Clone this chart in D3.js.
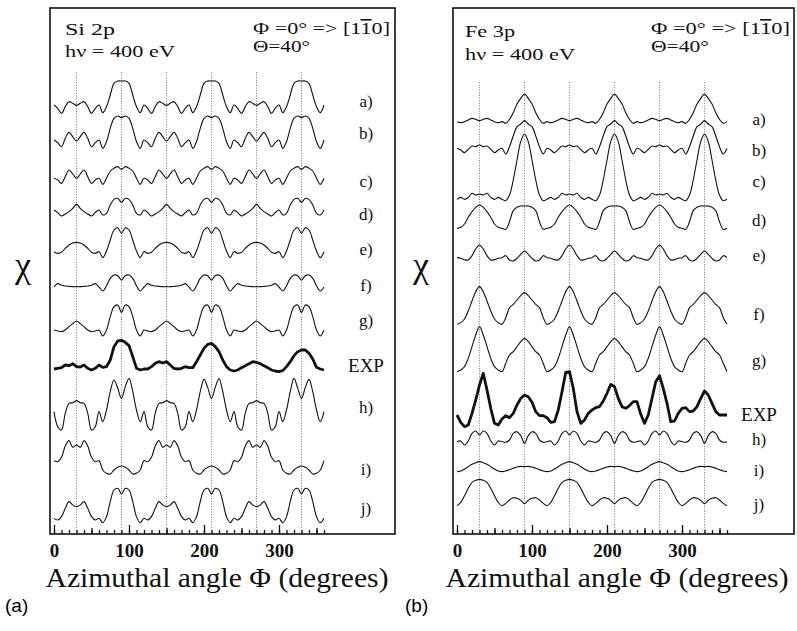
<!DOCTYPE html>
<html>
<head>
<meta charset="utf-8">
<script src="https://cdn.jsdelivr.net/npm/d3@7"></script>
<style>
  body { margin: 0; background: #fff; }
</style>
</head>
<body>
<div id="chart"></div>
<script>
// azimuthal sampling grid (degrees)
const angles = d3.range(0, 361, 5);

const curveLabels = ["a)", "b)", "c)", "d)", "e)", "f)", "g)", "EXP", "h)", "i)", "j)"];
const tickLabels = [0, 100, 200, 300];
const dottedAngles = [30, 90, 150, 210, 270, 330];

// Si 2p, chi (arb. units), one value every 5 deg from 0 to 360
const siA = [25,15,0,20,35,30, 24,30,35,20,0,15,25,2,20,55,90,97,97, 97,90,55,20,2,25,15,0,20,35,30,24,
  30,35,20,0,15,25,2,20,55,90,97,97, 97,90,55,20,2,25,15,0,20,35,30,24, 30,35,20,0,15,25,2,20,55,90,97,97, 97,90,55,20,2,25];
const siB = [28,20,8,33,51,38, 25,38,51,33,8,20,28,3,23,63,93,100,95, 100,93,63,23,3,28,20,8,33,51,38,25,
  38,51,33,8,20,28,3,23,63,93,100,95, 100,93,63,23,3,28,20,8,33,51,38,25, 38,51,33,8,20,28,3,23,63,93,100,95, 100,93,63,23,3,28];
const siC = [20,15,5,25,45,33, 20,33,45,25,5,15,20,2,20,42,50,55,47, 55,50,42,20,2,20,15,5,25,45,33,20,
  33,45,25,5,15,20,2,20,42,50,55,47, 55,50,42,20,2,20,15,5,25,45,33,20, 33,45,25,5,15,20,2,20,42,50,55,47, 55,50,42,20,2,20];
const siD = [20,12,2,8,15,25, 37,25,15,8,2,12,20,5,10,35,52,55,43, 55,52,35,10,5,20,12,2,8,15,25,37,
  25,15,8,2,12,20,5,10,35,52,55,43, 55,52,35,10,5,20,12,2,8,15,25,37, 25,15,8,2,12,20,5,10,35,52,55,43, 55,52,35,10,5,20];
const siE = [18,13,16,28,38,44, 46,44,38,28,16,13,18,0,20,53,83,90,73, 90,83,53,20,0,18,13,16,28,38,44,46,
  44,38,28,16,13,18,0,20,53,83,90,73, 90,83,53,20,0,18,13,16,28,38,44,46, 44,38,28,16,13,18,0,20,53,83,90,73, 90,83,53,20,0,18];
const siF = [12,22,17,15,14,13, 13,13,14,15,17,22,12,0,16,38,48,46,33, 46,48,38,16,0,12,22,17,15,14,13,13,
  13,14,15,17,22,12,0,16,38,48,46,33, 46,48,38,16,0,12,22,17,15,14,13,13, 13,14,15,17,22,12,0,16,38,48,46,33, 46,48,38,16,0,12];
const siG = [21,18,16,21,31,40, 48,40,31,21,16,18,21,3,21,61,91,96,74, 96,91,61,21,3,21,18,16,21,31,40,48,
  40,31,21,16,18,21,3,21,61,91,96,74, 96,91,61,21,3,21,18,16,21,31,40,48, 40,31,21,16,18,21,3,21,61,91,96,74, 96,91,61,21,3,21];
const siExp = [8,10,12,20,18,24,15,14,20,10, 5,10,20,13,15,35,75,92,94,88, 78,45,10,5,8,8,15,25,30,26,
  30,20,10,8,10,15,12,12,30,50, 70,82,85,75,60,35,15,5,2,5, 12,18,24,30,28,24,18,12,5,2, 0,3,15,30,48,60,65,65,55,38, 13,8,5];
const siH = [63,18,8,58,88,90, 96,90,88,58,8,18,63,33,68,123,158,133,103, 138,163,123,68,33,63,18,8,58,88,90,96,
  90,88,58,8,18,63,33,68,123,160,135,103, 136,162,123,68,33,63,18,8,58,88,90,96, 90,88,58,8,18,63,33,68,123,163,133,103, 135,160,123,68,33,63];
const siI = [42,39,52,86,102,82, 89,82,102,86,52,39,42,14,4,2,14,22,26, 22,14,2,4,14,42,39,52,86,102,82,89,
  82,102,86,52,39,42,14,4,2,14,22,26, 22,14,2,4,14,42,39,52,86,102,82,89, 82,102,86,52,39,42,14,4,2,14,22,26, 22,14,2,4,14,42];
const siJ = [15,10,20,45,65,55, 50,55,65,45,20,10,15,2,20,65,100,105,88, 105,100,65,20,2,15,10,20,45,65,55,50,
  55,65,45,20,10,15,2,20,65,100,105,88, 105,100,65,20,2,15,10,20,45,65,55,50, 55,65,45,20,10,15,2,20,65,100,105,88, 105,100,65,20,2,15];

// Fe 3p
const feA = [6,3,6,11,16,13, 9,13,16,11,6,3,6,1,13,33,59,76,89, 76,59,33,13,1,6,3,6,11,16,13,9,
  13,16,11,6,3,6,1,13,33,59,76,89, 76,59,33,13,1,6,3,6,11,16,13,9, 13,16,11,6,3,6,1,13,33,59,76,89, 76,59,33,13,1,6];
const feB = [20,15,7,17,27,25, 30,25,27,17,7,15,20,3,25,57,85,93,103, 93,85,57,25,3,20,15,7,17,27,25,30,
  25,27,17,7,15,20,3,25,57,85,93,103, 93,85,57,25,3,20,15,7,17,27,25,30, 25,27,17,7,15,20,3,25,57,85,93,103, 93,85,57,25,3,20];
const feC = [7,13,7,13,25,20, 23,20,25,13,7,13,7,3,20,65,125,180,203, 180,125,65,20,3,7,13,7,13,25,20,23,
  20,25,13,7,13,7,3,20,65,125,180,203, 180,125,65,20,3,7,13,7,13,25,20,23, 20,25,13,7,13,7,3,20,65,125,180,203, 180,125,65,20,3,7];
const feD = [5,8,18,38,55,68, 75,68,55,38,18,8,5,2,25,58,68,72,72, 72,68,58,25,2,5,8,18,38,55,68,75,
  68,55,38,18,8,5,2,25,58,68,72,72, 72,68,58,25,2,5,8,18,38,55,68,75, 68,55,38,18,8,5,2,25,58,68,72,72, 72,68,58,25,2,5];
const feE = [12,10,6,5,18,38, 50,38,18,5,6,10,12,18,5,2,10,22,32, 22,10,2,5,18,12,10,6,5,18,38,50,
  38,18,5,6,10,12,18,5,2,10,22,32, 22,10,2,5,18,12,10,6,5,18,38,50, 38,18,5,6,10,12,18,5,2,10,22,32, 22,10,2,5,18,12];
const feF = [2,7,18,42,72,100, 115,100,72,42,18,7,2,22,52,62,75,88,97, 88,75,62,52,22,2,7,18,42,72,100,115,
  100,72,42,18,7,2,22,52,62,75,88,97, 88,75,62,52,22,2,7,18,42,72,100,115, 100,72,42,18,7,2,22,52,62,75,88,97, 88,75,62,52,22,2];
const feG = [5,10,20,45,80,115, 140,115,80,45,20,10,5,30,55,65,80,95,105, 95,80,65,55,30,5,10,20,45,80,115,140,
  115,80,45,20,10,5,30,55,65,80,95,105, 95,80,65,55,30,5,10,20,45,80,115,140, 115,80,45,20,10,5,30,55,65,80,95,105, 95,80,65,55,30,5];
const feExp = [38,16,3,8,43,83,128,163,113,58, 13,8,26,36,30,43,68,88,98,93, 76,48,36,36,30,16,18,53,108,166,
  168,118,48,13,23,43,53,60,63,80, 103,130,123,88,63,58,66,78,78,40, 13,38,88,138,156,118,73,18,20,43, 58,60,48,50,63,88,110,98,73,48, 38,38,38];
const feH = [15,17,5,17,40,47, 35,47,40,17,5,17,15,13,20,40,45,33,10, 33,45,40,20,13,15,17,5,17,40,47,35,
  47,40,17,5,17,15,13,20,40,45,33,10, 33,45,40,20,13,15,17,5,17,40,47,35, 47,40,17,5,17,15,13,20,40,45,33,10, 33,45,40,20,13,15];
const feI = [2,4,10,17,24,29, 32,29,24,17,10,4,2,4,8,12,16,18,17, 18,16,12,8,4,2,4,10,17,24,29,32,
  29,24,17,10,4,2,4,8,12,16,18,17, 18,16,12,8,4,2,4,10,17,24,29,32, 29,24,17,10,4,2,4,8,12,16,18,17, 18,16,12,8,4,2];
const feJ = [2,12,32,54,72,78, 81,78,72,54,32,12,2,9,19,26,24,18,8, 18,24,26,19,9,2,12,32,54,72,78,81,
  78,72,54,32,12,2,9,19,26,24,18,8, 18,24,26,19,9,2,12,32,54,72,78,81, 78,72,54,32,12,2,9,19,26,24,18,8, 18,24,26,19,9,2];

const W = 797, H = 631;
const frameTop = 8, frameBottom = 534;
const SERIF = "'Liberation Serif', 'Nimbus Roman', 'Times New Roman', Times, serif";
const SANS = "'Liberation Sans', Arial, sans-serif";

// layout of the two panels (vertical offsets are in chi units)
const panels = [
  { tag: "(a)", tagX: 5, left: 50, right: 395, x0: 54, chiX: 23, labelX: 366, dotTop: 72, titleX: 217,
    series: [siA, siB, siC, siD, siE, siF, siG, siExp, siH, siI, siJ],
    offsets: [1265, 1157, 1050, 955, 832, 732, 594, 490, 307, 181, 35],
    labelY: [107, 139, 187, 220, 255, 291, 326, 372, 413, 475, 514],
    head: { x: 65, y1: 35, y2: 57, line: "Si 2p", w1: 50, hx: 253, hw: 137, tw: 57 } },
  { tag: "(b)", tagX: 405, left: 453, right: 794, x0: 457, chiX: 421, labelX: 759, dotTop: 82, titleX: 617,
    series: [feA, feB, feC, feD, feE, feF, feG, feExp, feH, feI, feJ],
    offsets: [1234, 1140, 1000, 915, 820, 630, 485, 322, 265, 188, 86],
    labelY: [125, 156, 187, 226, 261, 320, 366, 421, 445, 476, 510],
    head: { x: 465, y1: 37, y2: 60, line: "Fe 3p", w1: 50, hx: 651, hw: 139, tw: 58 } }
];

const svg = d3.select("#chart").append("svg")
  .attr("width", W)
  .attr("height", H);

// text helper, optionally stretched to a given width
function label(g, x, y, str, size, width, anchor) {
  const t = g.append("text")
    .attr("x", x).attr("y", y)
    .attr("text-anchor", anchor || "start")
    .style("font-family", SERIF)
    .style("font-size", size + "px")
    .style("fill", "#111")
    .text(str);
  if (width) t.attr("textLength", width).attr("lengthAdjust", "spacingAndGlyphs");
  return t;
}

const y = d3.scaleLinear().domain([0, 1581]).range([frameBottom + 1, frameTop]);

panels.forEach(p => {
  const g = svg.append("g");
  const x = d3.scaleLinear().domain([0, 360]).range([p.x0, p.x0 + 270]);

  // dotted guides
  g.selectAll(".guide")
    .data(dottedAngles)
    .enter()
    .append("line")
    .attr("x1", d => x(d)).attr("x2", d => x(d))
    .attr("y1", p.dotTop).attr("y2", frameBottom)
    .attr("stroke", "#555")
    .attr("stroke-width", 0.8)
    .attr("stroke-dasharray", "1,1.6");

  // curves
  p.series.forEach((vals, i) => {
    const isExp = curveLabels[i] === "EXP";
    const line = d3.line()
      .x((d, k) => x(angles[k]))
      .y(d => y(p.offsets[i] + d))
      .curve(isExp ? d3.curveLinear : d3.curveCatmullRom.alpha(0.5));
    g.append("path")
      .datum(vals)
      .attr("d", line)
      .attr("fill", "none")
      .attr("stroke", "#111")
      .attr("stroke-width", isExp ? 2.8 : 1.1)
      .attr("stroke-linejoin", "round");

    label(g, p.labelX, p.labelY[i], curveLabels[i], isExp ? 19 : 17, null, "middle");
  });

  // frame
  g.append("rect")
    .attr("x", p.left).attr("y", frameTop)
    .attr("width", p.right - p.left)
    .attr("height", frameBottom - frameTop)
    .attr("fill", "none")
    .attr("stroke", "#111")
    .attr("stroke-width", 1.6);

  // ticks pointing inward
  const axG = g.append("g").attr("transform", `translate(0,${frameBottom})`);
  axG.append("g")
    .call(d3.axisBottom(x).tickValues(d3.range(0, 361, 10)).tickSize(-4).tickFormat(""));
  axG.append("g")
    .call(d3.axisBottom(x).tickValues([50, 150, 250, 350]).tickSize(-6).tickFormat(""));
  axG.append("g")
    .call(d3.axisBottom(x).tickValues(tickLabels).tickSize(-9).tickPadding(10));
  axG.selectAll(".domain").remove();
  axG.selectAll(".tick line").attr("stroke", "#111").attr("stroke-width", 1.3);
  axG.selectAll(".tick text")
    .style("font-family", SERIF)
    .style("font-size", "19px")
    .style("font-weight", "bold")
    .style("fill", "#111");

  // axis title
  label(g, p.titleX, 587, "Azimuthal angle \u03A6 (degrees)", 28, 343, "middle");

  // chi
  label(g, p.chiX, 277, "\u03C7", 36, null, "middle");

  // header
  label(g, p.head.x, p.head.y1, p.head.line, 17, p.head.w1);
  label(g, p.head.x, p.head.y2, "h\u03BD = 400 eV", 17, 110);
  const phi = label(g, p.head.hx, 34, "\u03A6 =0\u00B0 => [1", 16, p.head.hw);
  phi.append("tspan").style("text-decoration", "overline").text("1");
  phi.append("tspan").text("0]");
  label(g, p.head.hx, 52, "\u0398=40\u00B0", 16, p.head.tw);

  // panel tag
  g.append("text")
    .attr("x", p.tagX).attr("y", 612)
    .style("font-size", "19px")
    .style("font-family", SANS)
    .text(p.tag);
});
</script>
</body>
</html>
